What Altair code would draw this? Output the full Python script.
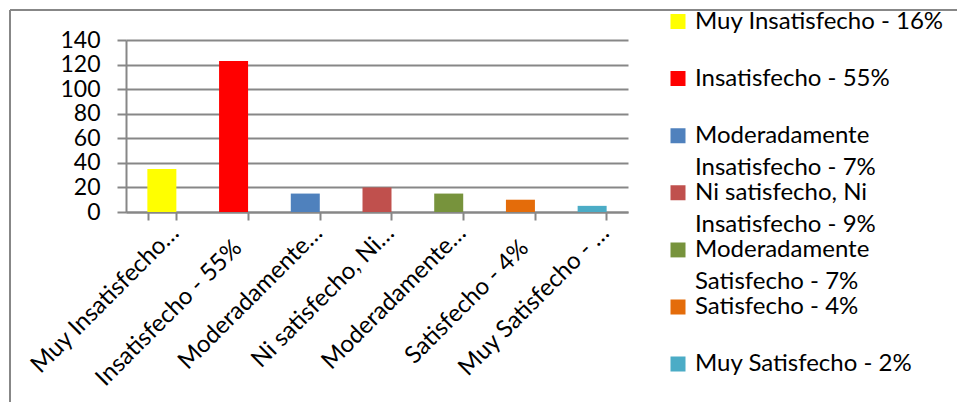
import json
import altair as alt
import pandas as pd

# Survey responses per satisfaction level
categories = [
    "Muy Insatisfecho - 16%",
    "Insatisfecho - 55%",
    "Moderadamente Insatisfecho - 7%",
    "Ni satisfecho, Ni Insatisfecho - 9%",
    "Moderadamente Satisfecho - 7%",
    "Satisfecho - 4%",
    "Muy Satisfecho - 2%",
]
counts = [35, 123, 15, 20, 15, 10, 5]
bar_colors = ["#FFFF00", "#FF0000", "#4F81BD", "#C0504D", "#77933C", "#E46C0A", "#4BACC6"]

# Shortened category labels under the x axis
tick_labels = [
    "Muy Insatisfecho…",
    "Insatisfecho - 55%",
    "Moderadamente…",
    "Ni satisfecho, Ni…",
    "Moderadamente…",
    "Satisfecho - 4%",
    "Muy Satisfecho - …",
]

# Legend entries, wrapped onto lines
legend_lines = [
    ["Muy Insatisfecho - 16%"],
    ["Insatisfecho - 55%"],
    ["Moderadamente", "Insatisfecho - 7%"],
    ["Ni satisfecho, Ni", "Insatisfecho - 9%"],
    ["Moderadamente", "Satisfecho - 7%"],
    ["Satisfecho - 4%"],
    ["Muy Satisfecho - 2%"],
]

y_ticks = [0, 20, 40, 60, 80, 100, 120, 140]

first_lines = [lines[0] for lines in legend_lines]
second_lines = [lines[1] if len(lines) > 1 else "" for lines in legend_lines]

df = pd.DataFrame({"categoria": categories, "categoria_b": categories, "valor": counts})

FONT = "Lato"
GRAY = "#878787"
LABEL_SIZE = 24

# Legend geometry (relative to the plot origin)
LEG_X = 540
LEG_Y = -33.5
LINE_GAP = 32.5
ENTRY_H = 30
ROW_PAD = 27.1


def lookup(values):
    """Vega expression mapping a category label to an entry of `values`."""
    cats_js = json.dumps(categories, ensure_ascii=False)
    return f"{json.dumps(values, ensure_ascii=False)}[indexof({cats_js}, datum.label)]"


short_cats = [c for c, t in zip(categories, tick_labels) if t.endswith("…")]
short_test = f"indexof({json.dumps(short_cats, ensure_ascii=False)}, datum.label) >= 0"

legend_common = dict(
    title=None,
    orient="none",
    legendX=LEG_X,
    padding=0,
    symbolType="square",
    symbolSize=225,
    symbolStrokeWidth=0,
    labelFont=FONT,
    labelFontSize=LABEL_SIZE,
    labelColor="#000000",
    labelLimit=400,
    labelOffset=5,
    labelBaseline="middle",
    clipHeight=ENTRY_H,
    rowPadding=ROW_PAD,
)

bars = alt.Chart(df).mark_bar(size=29).encode(
    x=alt.X(
        "categoria:N",
        sort=categories,
        scale=alt.Scale(paddingInner=0.6, paddingOuter=0.3),
        axis=alt.Axis(
            title=None,
            labelExpr=lookup(tick_labels),
            labelAngle=-45,
            labelAlign="right",
            labelBaseline="middle",
            labelFont=FONT,
            labelFontSize=LABEL_SIZE,
            labelColor="#000000",
            labelLimit=400,
            labelOverlap=False,
            labelBound=False,
            labelPadding={"condition": {"test": short_test, "value": 9}, "value": 24},
            labelOffset={"condition": {"test": short_test, "value": 13}, "value": 4},
            tickBand="extent",
            tickSize=8,
            tickColor=GRAY,
            tickWidth=2,
            domainColor=GRAY,
            domainWidth=2,
            grid=False,
        ),
    ),
    y=alt.Y(
        "valor:Q",
        scale=alt.Scale(domain=[0, 140], nice=False),
        axis=alt.Axis(
            title=None,
            values=y_ticks,
            grid=True,
            gridColor=GRAY,
            gridWidth=2,
            domainColor=GRAY,
            domainWidth=2,
            tickColor=GRAY,
            tickWidth=2,
            tickSize=9,
            labelFont=FONT,
            labelFontSize=23,
            labelColor="#000000",
            labelPadding=17,
        ),
    ),
    # Coloured squares with the first line of each legend entry
    color=alt.Color(
        "categoria:N",
        sort=categories,
        scale=alt.Scale(domain=categories, range=bar_colors),
        legend=alt.Legend(
            legendY=LEG_Y,
            labelExpr=lookup(first_lines),
            symbolOpacity=1,
            **legend_common,
        ),
    ),
    # Continuation lines of the wrapped legend entries (no visible symbols)
    opacity=alt.Opacity(
        "categoria_b:N",
        sort=categories,
        scale=alt.Scale(range=[1] * len(categories)),
        legend=alt.Legend(
            legendY=LEG_Y + LINE_GAP,
            labelExpr=lookup(second_lines),
            symbolOpacity=0,
            symbolFillColor="#ffffff",
            symbolStrokeColor="#ffffff",
            **legend_common,
        ),
    ),
)

# Outer chart frame (top and left edges)
frame = alt.Data(values=[{"k": 0}])
top_edge = alt.Chart(frame).mark_rule(color=GRAY, strokeWidth=2).encode(
    x=alt.value(-116), x2=alt.value(840), y=alt.value(-30)
)
left_edge = alt.Chart(frame).mark_rule(color=GRAY, strokeWidth=2).encode(
    x=alt.value(-116), y=alt.value(-30), y2=alt.value(370)
)

chart = (
    alt.layer(top_edge, left_edge, bars)
    .properties(
        width=502,
        height=172,
        autosize=alt.AutoSizeParams(type="none"),
        padding={"left": 126, "top": 40, "right": 329, "bottom": 190},
        background="#ffffff",
    )
    .configure_view(stroke=None)
)

chart.save("out.html", embed_options={"renderer": "svg", "actions": False})
